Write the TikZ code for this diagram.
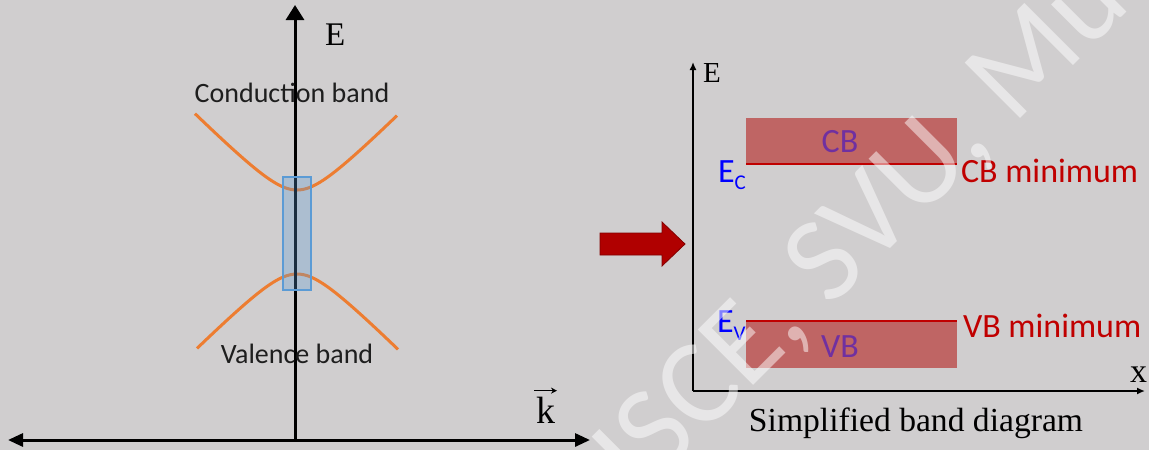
\documentclass[tikz,border=0pt]{standalone}
\usepackage{fontspec}
\setmainfont{Liberation Serif}
\newfontfamily\calib{Carlito}
\usetikzlibrary{arrows.meta}
\definecolor{bg}{RGB}{208,206,207}
\definecolor{bandorange}{HTML}{ED7D31}
\definecolor{boxblue}{HTML}{5B9BD5}
\definecolor{bandred}{RGB}{191,101,100}
\definecolor{edgered}{HTML}{C00000}
\definecolor{labpurple}{HTML}{7030A0}
\definecolor{labblue}{RGB}{0,0,255}
\definecolor{arrowred}{RGB}{176,0,0}
\definecolor{arrowedge}{RGB}{130,0,0}
\definecolor{darktext}{RGB}{30,30,30}

\begin{document}
\begin{tikzpicture}[x=0.5pt,y=-0.5pt,
  txt/.style={inner sep=0pt, outer sep=0pt},
  sansband/.style={txt, text=darktext, font=\calib\fontsize{14}{16}\selectfont, anchor=base},
  minlabel/.style={txt, text=edgered, font=\calib\fontsize{17}{19}\selectfont, anchor=base west},
  bandname/.style={txt, text=labpurple, font=\calib\fontsize{17}{19}\selectfont, anchor=base},
  levellabel/.style={txt, text=labblue, font=\calib\fontsize{17}{19}\selectfont, anchor=base west},
  seriflabel/.style={txt, anchor=base west},
  bigaxis/.style={line width=1.5pt, black},
  smallaxis/.style={line width=1pt, black, -{Latex[length=4pt,width=3.5pt]}},
  dispersion/.style={line width=1.5pt, bandorange},
  bandbox/.style={fill=bandred},
  bandedge/.style={line width=1pt, edgered}]

% canvas
\useasboundingbox (0,0) rectangle (1149,450);
\fill[bg] (0,0) rectangle (1149,450);
\clip (0,0) rectangle (1149,450);

% ---------- E(k) dispersion ----------
\coordinate (kleft) at (8,440);
\coordinate (kright) at (590,440);
\coordinate (kbase) at (295,440);
\coordinate (ktop) at (295,5);

\draw[dispersion] plot[domain=195:397, samples=80, smooth]
  (\x, {190 - (sqrt(900+(\x-297)^2)-30)});
\draw[dispersion] plot[domain=197:398, samples=80, smooth]
  (\x, {274 + (sqrt(900+(\x-297)^2)-30)});

\draw[bigaxis, -{Triangle[length=7.5pt,width=9pt]}] (kbase) -- (ktop);
\draw[bigaxis, {Triangle[length=7.5pt,width=6.5pt]}-{Triangle[length=7.5pt,width=6.5pt]}] (kleft) -- (kright);

% band-gap window at k = 0
\filldraw[draw=boxblue, line width=0.8pt, fill=boxblue, fill opacity=0.3]
  (283,177) rectangle (311,290);

\node[sansband] (cbtxt) at (292,102) {Conduction band};
\node[sansband] (vbtxt) at (297,363) {Valence band};
\node[seriflabel, font=\fontsize{16.5}{18}\selectfont] (Eleft) at (325,45) {E};
\node[seriflabel, font=\fontsize{19}{21}\selectfont] (kvec) at (536,423) {k};
\draw[line width=0.6pt, -{Stealth[length=3pt,width=3pt]}]
  ([xshift=-1pt,yshift=3pt]kvec.north west) -- ([xshift=1pt,yshift=3pt]kvec.north east);

% ---------- block arrow ----------
\filldraw[fill=arrowred, draw=arrowedge, line width=0.4pt]
  (600,233) -- (662,233) -- (662,222) -- (685,244) -- (662,266) -- (662,255) -- (600,255) -- cycle;

% ---------- simplified band diagram ----------
\coordinate (org) at (693,391);
\coordinate (etop) at (693,62);
\coordinate (xend) at (1145,391);
\draw[smallaxis] (org) -- (etop);
\draw[smallaxis] (org) -- (xend);

\fill[bandbox] (746,118) rectangle (957,164);
\draw[bandedge] (746,164) -- (957,164);
\fill[bandbox] (746,321) rectangle (957,368);
\draw[bandedge] (746,321) -- (957,321);

\node[bandname] (cbname) at (840,152) {CB};
\node[bandname] (vbname) at (840,357) {VB};
\node[minlabel] (cbmin) at (961,182) {CB minimum};
\node[minlabel] (vbmin) at (963,337) {VB minimum};
\node[levellabel] (ec) at (718,182) {E\raisebox{-3.8pt}{\fontsize{10.5}{11}\selectfont C}};
\node[levellabel] (ev) at (717,332) {E\raisebox{-4pt}{\fontsize{10.5}{11}\selectfont V}};

\node[seriflabel, font=\fontsize{14.5}{16}\selectfont] (Eright) at (703,82) {E};
\node[seriflabel, font=\fontsize{17}{19}\selectfont] (xlab) at (1130,382) {x};
\node[txt, anchor=base, font=\fontsize{16.8}{19}\selectfont] (caption) at (916,431) {Simplified band diagram};

% ---------- watermark ----------
\node[txt, anchor=base west, rotate=45, text=white, text opacity=0.5,
  font=\calib\fontsize{61}{61}\selectfont] (wm) at (640,499) {ISCE, SVU, Mu};

\end{tikzpicture}
\end{document}
